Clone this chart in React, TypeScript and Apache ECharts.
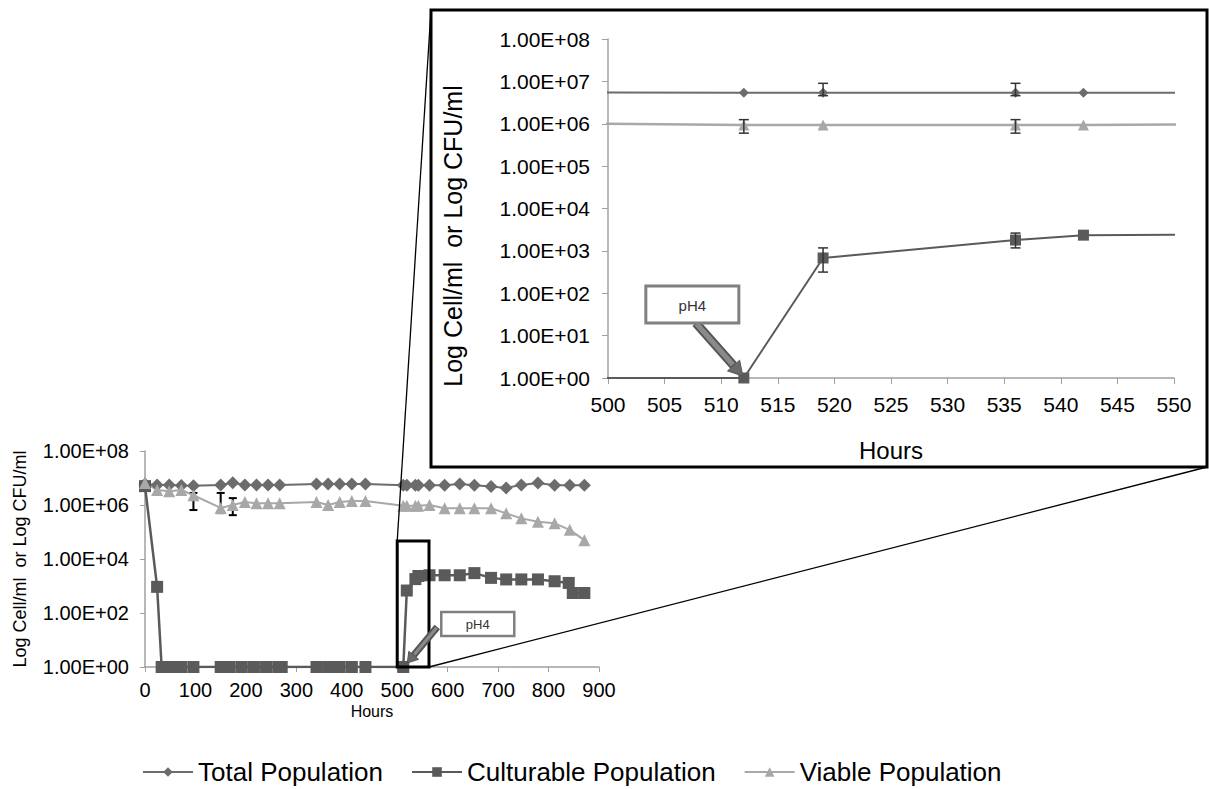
import React, { useEffect, useRef } from 'react';
import * as echarts from 'echarts';

// ---- data (hours, cells or CFU per ml) ----
const totalHours = [0, 24, 48, 72, 96, 150, 174, 198, 221, 244, 267, 340, 363, 386, 410, 437, 512, 519, 536, 542, 564, 594, 624, 653, 686, 716, 746, 779, 812, 842, 871];
const totalValues = [6e6, 5.5e6, 5.5e6, 5.3e6, 5.2e6, 5.5e6, 6.7e6, 5.5e6, 5.5e6, 5.5e6, 5.5e6, 6e6, 6e6, 6e6, 6e6, 6e6, 5.4e6, 5.4e6, 5.4e6, 5.4e6, 5.4e6, 5.4e6, 6e6, 5.4e6, 4.8e6, 4.3e6, 5.5e6, 6.5e6, 5.4e6, 5.4e6, 5.4e6];

const culturableHours = [0, 24, 33, 48, 60, 72, 96, 150, 168, 192, 216, 240, 264, 271, 340, 363, 386, 410, 437, 512, 519, 536, 542, 564, 594, 624, 653, 686, 716, 746, 779, 812, 840, 848, 871];
const culturableValues = [5e6, 930, 1, 1, 1, 1, 1, 1, 1, 1, 1, 1, 1, 1, 1, 1, 1, 1, 1, 1, 680, 1800, 2350, 2500, 2500, 2500, 3000, 2000, 1750, 1750, 1750, 1500, 1300, 550, 550];

const viableHours = [0, 24, 48, 72, 96, 150, 174, 198, 221, 244, 267, 340, 363, 386, 410, 437, 512, 519, 536, 542, 564, 594, 624, 653, 686, 716, 746, 779, 812, 842, 871];
const viableValues = [6.5e6, 3.6e6, 3.2e6, 3.6e6, 2.3e6, 7.8e5, 1e6, 1.3e6, 1.15e6, 1.15e6, 1.15e6, 1.3e6, 1e6, 1.3e6, 1.4e6, 1.4e6, 9.3e5, 9.3e5, 9.3e5, 9.3e5, 1e6, 7.6e5, 7.6e5, 7.6e5, 7.6e5, 4.9e5, 3.2e5, 2.4e5, 2.1e5, 1.2e5, 5e4];

// error bars: hour, low, high
const errHours = [96, 150, 174, 512, 519, 519, 536, 536, 536];
const errLow = [6.5e5, 5e5, 4.2e5, 6e5, 4.6e6, 316, 4.6e6, 6e5, 1175];
const errHigh = [2.8e6, 2.8e6, 1.8e6, 1.25e6, 9e6, 1175, 9e6, 1.25e6, 2630];

const seriesNames = ['Total Population', 'Culturable Population', 'Viable Population'];
const mainXTicks = { min: 0, max: 900, interval: 100 };
const insetXTicks = { min: 500, max: 550, interval: 5 };
const yRange = { min: 1, max: 1e8 };
const zoomBoxX = [500, 563];
const zoomBoxY = [1, 4.6e4];
const pH4Hour = 512;
const pH4Value = 1;
const yAxisTitle = 'Log Cell/ml  or Log CFU/ml';
const xAxisTitle = 'Hours';

const FONT = '"Liberation Sans", Arial, sans-serif';
const C_TOTAL = '#6c6c6c';
const C_CULT = '#5a5a5a';
const C_VIAB = '#a8a8a8';
const AXIS_C = '#a0a0a0';

const pairs = (h: number[], v: number[]) => h.map((x, i) => [x, v[i]]);

const expLabel = (v: number) => {
  const e = Math.round(Math.log10(v));
  return '1.00E+' + (e < 10 ? '0' : '') + e;
};

function errorSeries(grid: number, color: string, lw: number, cap: number, filter: [number, number]) {
  const data: number[][] = [];
  errHours.forEach((h, i) => {
    if (h >= filter[0] && h <= filter[1]) data.push([h, errLow[i], errHigh[i]]);
  });
  return {
    type: 'custom',
    xAxisIndex: grid,
    yAxisIndex: grid,
    z: grid === 0 ? 1 : 5,
    silent: true,
    encode: { x: 0, y: [1, 2] },
    data,
    renderItem: (params: any, api: any) => {
      const h = api.value(0);
      const p1 = api.coord([h, api.value(1)]);
      const p2 = api.coord([h, api.value(2)]);
      const st = { stroke: color, lineWidth: lw };
      return {
        type: 'group',
        children: [
          { type: 'line', shape: { x1: p1[0], y1: p1[1], x2: p2[0], y2: p2[1] }, style: st },
          { type: 'line', shape: { x1: p1[0] - cap, y1: p1[1], x2: p1[0] + cap, y2: p1[1] }, style: st },
          { type: 'line', shape: { x1: p2[0] - cap, y1: p2[1], x2: p2[0] + cap, y2: p2[1] }, style: st },
        ],
      };
    },
  };
}

function lineSeries(grid: number, name: string, h: number[], v: number[], color: string, symbol: string, size: number, lw: number) {
  return {
    type: 'line',
    name,
    xAxisIndex: grid,
    yAxisIndex: grid,
    data: pairs(h, v),
    symbol,
    symbolSize: size,
    showAllSymbol: true,
    clip: true,
    z: 3,
    lineStyle: { color, width: lw },
    itemStyle: { color, borderWidth: 0 },
    emphasis: { disabled: true },
  };
}

function arrow(x1: number, y1: number, x2: number, y2: number, w: number, head: number) {
  const dx = x2 - x1, dy = y2 - y1;
  const L = Math.hypot(dx, dy);
  const ux = dx / L, uy = dy / L;
  const nx = -uy, ny = ux;
  const bx = x2 - ux * head, by = y2 - uy * head;
  return [
    { type: 'line', z: 100, shape: { x1, y1, x2: bx, y2: by }, style: { stroke: '#555', lineWidth: w } },
    { type: 'line', z: 101, shape: { x1: x1 + ux, y1: y1 + uy, x2: bx - ux, y2: by - uy }, style: { stroke: '#8a8a8a', lineWidth: Math.max(1, w - 4) } },
    { type: 'polygon', z: 101, shape: { points: [[x2, y2], [bx + nx * w * 0.9, by + ny * w * 0.9], [bx - nx * w * 0.9, by - ny * w * 0.9]] }, style: { fill: '#6a6a6a', stroke: '#555', lineWidth: 1 } },
  ];
}

export default function App() {
  const ref = useRef<HTMLDivElement>(null);
  useEffect(() => {
    if (!ref.current) return;
    const chart = echarts.init(ref.current, undefined, { renderer: 'svg' });
    const axisLabelStyle = { color: '#000', fontFamily: FONT };
    const option: any = {
      animation: false,
      backgroundColor: '#fff',
      textStyle: { fontFamily: FONT },
      grid: [
        { left: 145, top: 451, width: 454, height: 216 },
        { left: 608, top: 39, width: 566, height: 339 },
      ],
      xAxis: [
        {
          gridIndex: 0, type: 'value', ...mainXTicks,
          axisLine: { lineStyle: { color: AXIS_C, width: 1.5 } },
          axisTick: { show: true, length: 5, lineStyle: { color: AXIS_C } },
          splitLine: { show: false },
          axisLabel: { ...axisLabelStyle, fontSize: 20, margin: 13 },
          name: xAxisTitle, nameLocation: 'middle', nameGap: 36,
          nameTextStyle: { color: '#000', fontSize: 16, fontFamily: FONT },
        },
        {
          gridIndex: 1, type: 'value', ...insetXTicks,
          axisLine: { lineStyle: { color: AXIS_C, width: 1.5 } },
          axisTick: { show: true, length: 6, lineStyle: { color: AXIS_C } },
          splitLine: { show: false },
          axisLabel: { ...axisLabelStyle, fontSize: 21, margin: 16 },
          name: xAxisTitle, nameLocation: 'middle', nameGap: 60,
          nameTextStyle: { color: '#000', fontSize: 24, fontFamily: FONT },
        },
      ],
      yAxis: [
        {
          gridIndex: 0, type: 'log', logBase: 100, ...yRange,
          axisLine: { show: true, lineStyle: { color: AXIS_C, width: 1.5 } },
          axisTick: { show: true, length: 5, lineStyle: { color: AXIS_C } },
          splitLine: { show: false },
          minorTick: { show: false },
          axisLabel: { ...axisLabelStyle, fontSize: 20, margin: 16, formatter: expLabel },
          name: yAxisTitle, nameLocation: 'middle', nameRotate: 90, nameGap: 116,
          nameTextStyle: { color: '#000', fontSize: 18, fontFamily: FONT },
        },
        {
          gridIndex: 1, type: 'log', logBase: 10, ...yRange,
          axisLine: { show: true, lineStyle: { color: AXIS_C, width: 1.5 } },
          axisTick: { show: true, length: 6, lineStyle: { color: AXIS_C } },
          splitLine: { show: false },
          axisLabel: { ...axisLabelStyle, fontSize: 21, margin: 18, formatter: expLabel },
        },
      ],
      legend: {
        data: seriesNames,
        top: 754,
        left: 137,
        itemWidth: 50,
        itemHeight: 12,
        itemGap: 28,
        textStyle: { color: '#000', fontSize: 26, fontFamily: FONT },
        selectedMode: false,
      },
      series: [
        errorSeries(0, '#000', 2, 4, [0, 499]),
        lineSeries(0, seriesNames[0], totalHours, totalValues, C_TOTAL, 'diamond', 13, 2),
        lineSeries(0, seriesNames[1], culturableHours, culturableValues, C_CULT, 'rect', 12, 2.5),
        lineSeries(0, seriesNames[2], viableHours, viableValues, C_VIAB, 'triangle', 12, 2),
        lineSeries(1, seriesNames[0], totalHours, totalValues, C_TOTAL, 'diamond', 10, 2),
        lineSeries(1, seriesNames[1], culturableHours, culturableValues, C_CULT, 'rect', 11, 2),
        lineSeries(1, seriesNames[2], viableHours, viableValues, C_VIAB, 'triangle', 11, 2.5),
        errorSeries(1, '#333', 1.5, 5, [insetXTicks.min, insetXTicks.max]),
      ],
    };
    chart.setOption(option);

    const a = chart.convertToPixel({ xAxisIndex: 0, yAxisIndex: 0 }, [zoomBoxX[0], zoomBoxY[1]]) as number[];
    const b = chart.convertToPixel({ xAxisIndex: 0, yAxisIndex: 0 }, [zoomBoxX[1], zoomBoxY[0]]) as number[];
    const t0 = chart.convertToPixel({ xAxisIndex: 0, yAxisIndex: 0 }, [pH4Hour, pH4Value]) as number[];
    const t1 = chart.convertToPixel({ xAxisIndex: 1, yAxisIndex: 1 }, [pH4Hour, pH4Value]) as number[];
    const F = { x: 431, y: 10, w: 776, h: 457 };
    const black = { stroke: '#000' };
    const graphic: any[] = [
      { type: 'rect', z: 100, shape: { x: F.x, y: F.y, width: F.w, height: F.h }, style: { fill: 'none', ...black, lineWidth: 3 } },
      { type: 'rect', z: 100, shape: { x: a[0], y: a[1], width: b[0] - a[0], height: b[1] - a[1] }, style: { fill: 'none', ...black, lineWidth: 3 } },
      { type: 'line', z: 100, shape: { x1: a[0], y1: a[1], x2: F.x, y2: F.y }, style: { ...black, lineWidth: 1.3 } },
      { type: 'line', z: 100, shape: { x1: b[0], y1: b[1], x2: F.x + F.w, y2: F.y + F.h }, style: { ...black, lineWidth: 1.3 } },
      {
        type: 'text', z: 100, x: 453, y: 236, rotation: Math.PI / 2,
        style: { text: yAxisTitle, fontSize: 25, fontFamily: FONT, fill: '#000', align: 'center', verticalAlign: 'middle' },
      },
      ...arrow(t0[0] + 34, t0[1] - 40, t0[0] + 4, t0[1] - 4, 7, 10),
      { type: 'rect', z: 102, shape: { x: t0[0] + 38, y: t0[1] - 55, width: 73, height: 24 }, style: { fill: '#fff', stroke: '#808080', lineWidth: 2.5 } },
      { type: 'text', z: 103, x: t0[0] + 74.5, y: t0[1] - 43, style: { text: 'pH4', fontSize: 13, fontFamily: FONT, fill: '#333', align: 'center', verticalAlign: 'middle' } },
      ...arrow(t1[0] - 48, t1[1] - 55, t1[0] - 1, t1[1] - 2, 9, 14),
      { type: 'rect', z: 102, shape: { x: t1[0] - 98, y: t1[1] - 92, width: 93, height: 37 }, style: { fill: '#fff', stroke: '#808080', lineWidth: 3 } },
      { type: 'text', z: 103, x: t1[0] - 51.5, y: t1[1] - 73, style: { text: 'pH4', fontSize: 15, fontFamily: FONT, fill: '#333', align: 'center', verticalAlign: 'middle' } },
    ];
    chart.setOption({ graphic });
    return () => chart.dispose();
  }, []);
  return <div ref={ref} style={{ position: 'absolute', left: 0, top: 0, width: 1209, height: 789, background: '#fff' }} />;
}
